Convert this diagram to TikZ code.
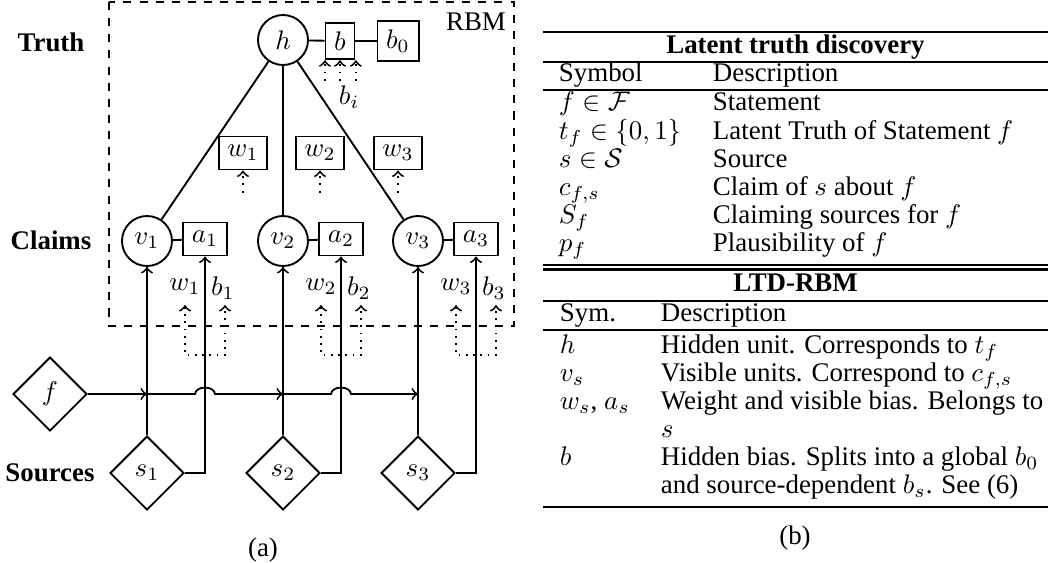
\documentclass[tikz,border=0pt]{standalone}
\usepackage{fontspec}
\setmainfont{Liberation Serif}
\usetikzlibrary{shapes.geometric,calc}
\begin{document}
\begin{tikzpicture}[x=0.372pt,y=-0.372pt,line width=0.7pt,
  circ/.style={circle,draw,minimum size=18.6pt,inner sep=0pt},
  box/.style={draw,rectangle,inner sep=0pt},
  dia/.style={diamond,draw,aspect=1,minimum width=27.5pt,minimum height=27.5pt,inner sep=0pt},
  lbl/.style={font=\bfseries},
  dotarrow/.style={dotted,->},
  tx/.style={anchor=base west,inner sep=0pt},
  hd/.style={anchor=base,inner sep=0pt,font=\bfseries},
  thickrule/.style={line width=1.1pt},
  midrule/.style={line width=0.8pt}]
\useasboundingbox (0,0) rectangle (1048,562);

% ---------- (a) ----------
\node[lbl] (truth) at (51,42) {Truth};
\node[lbl] (claims) at (51,240) {Claims};
\node[lbl] (sources) at (50,473) {Sources};

\draw[dashed] (109,2) rectangle (514,326);
\node (rbm) at (476,22) {RBM};

\node[circ] (h) at (283,40) {$h$};
\node[box,minimum width=10.8pt,minimum height=13.6pt] (b) at (340,41) {$b$};
\node[box,minimum width=15.3pt,minimum height=14.9pt] (b0) at (398,41) {$b_0$};
\draw (h) -- (b);
\draw (b) -- (b0);
\foreach \dx in {-5.6pt,0pt,5.9pt}
  \draw[dotarrow] ([xshift=\dx,yshift=-7.6pt]b.south) -- ([xshift=\dx]b.south);
\node (bi) at (349,97) {$b_i$};

\foreach \i/\x in {1/243,2/320,3/398}{
  \node[box,minimum width=17.9pt,minimum height=12.3pt] (w\i) at (\x,153) {$w_\i$};
  \draw[dotarrow] ([yshift=-8.2pt]w\i.south) -- (w\i.south);
}

\foreach \i/\x/\ax in {1/147/205,2/283/341,3/418/476}{
  \node[circ] (v\i) at (\x,241) {$v_\i$};
  \node[box,minimum width=16.4pt,minimum height=12.3pt] (a\i) at (\ax,239) {$a_\i$};
  \draw (v\i) -- (a\i);
  \draw (h) -- (v\i);
  \node[dia] (s\i) at (\x,473) {$s_\i$};
  \draw[->] (s\i.north) -- (v\i.south);
  \draw[->] (s\i.east) -| (a\i.south);
  \node (lw\i) at (\ax-20,287) {$w_\i$};
  \node (lb\i) at (\ax+18,288) {$b_\i$};
  \coordinate (ul\i) at (\ax-20,305);
  \coordinate (ub\i) at (\ax-20,355);
  \coordinate (ur\i) at (\ax+20,305);
  \draw[dotted,<->] (ul\i) -- (ub\i) -| (ur\i);
}

\node[dia] (f) at (50,394) {$f$};
\coordinate (j1) at (v1 |- f);
\coordinate (j2) at (v2 |- f);
\coordinate (j3) at (v3 |- f);
\coordinate (k1) at (a1 |- f);
\coordinate (k2) at (a2 |- f);
\draw[->] (f.east) -- (j1);
\draw[->] (j1) -- ([xshift=-3.7pt]k1) arc[start angle=180,end angle=0,x radius=3.7pt,y radius=2.4pt] -- (j2);
\draw[->] (j2) -- ([xshift=-3.7pt]k2) arc[start angle=180,end angle=0,x radius=3.7pt,y radius=2.4pt] -- (j3);

\node (capa) at (263,550) {(a)};

% ---------- (b) ----------
\draw[thickrule] (543,32) -- (1048,32);
\node[hd] (t1) at (795.5,53) {Latent truth discovery};
\draw[midrule] (543,62) -- (1048,62);
\node[tx] at (558,81) {Symbol};
\node[tx] at (712,81) {Description};
\draw[midrule] (543,90) -- (1048,90);
\node[tx] at (558,110) {$f \in \mathcal{F}$};
\node[tx] at (712,110) {Statement};
\node[tx] at (558,139) {$t_f \in \{0,1\}$};
\node[tx] at (712,139) {Latent Truth of Statement $f$};
\node[tx] at (558,167) {$s \in \mathcal{S}$};
\node[tx] at (712,167) {Source};
\node[tx] at (558,195) {$c_{f,s}$};
\node[tx] at (712,195) {Claim of $s$ about $f$};
\node[tx] at (558,223) {$S_f$};
\node[tx] at (712,223) {Claiming sources for $f$};
\node[tx] at (558,251) {$p_f$};
\node[tx] at (712,251) {Plausibility of $f$};
\draw[midrule] (543,265) -- (1048,265);
\draw[midrule] (543,269.5) -- (1048,269.5);
\node[hd] (t2) at (795.5,291) {LTD-RBM};
\draw[thickrule] (543,301) -- (1048,301);
\node[tx] at (559,321) {Sym.};
\node[tx] at (660,321) {Description};
\draw[midrule] (543,330) -- (1048,330);
\node[tx] at (559,353) {$h$};
\node[tx] at (660,353) {Hidden unit. Corresponds to $t_f$};
\node[tx] at (559,381) {$v_s$};
\node[tx] at (660,381) {Visible units. Correspond to $c_{f,s}$};
\node[tx] at (559,409) {$w_s$, $a_s$};
\node[tx] at (660,409) {Weight and visible bias. Belongs to};
\node[tx] at (660,437) {$s$};
\node[tx] at (559,465) {$b$};
\node[tx] at (660,465) {Hidden bias. Splits into a global $b_0$};
\node[tx] at (660,493) {and source-dependent $b_s$. See (6)};
\draw[thickrule] (543,507) -- (1048,507);
\node (capb) at (795,538) {(b)};
\end{tikzpicture}
\end{document}
